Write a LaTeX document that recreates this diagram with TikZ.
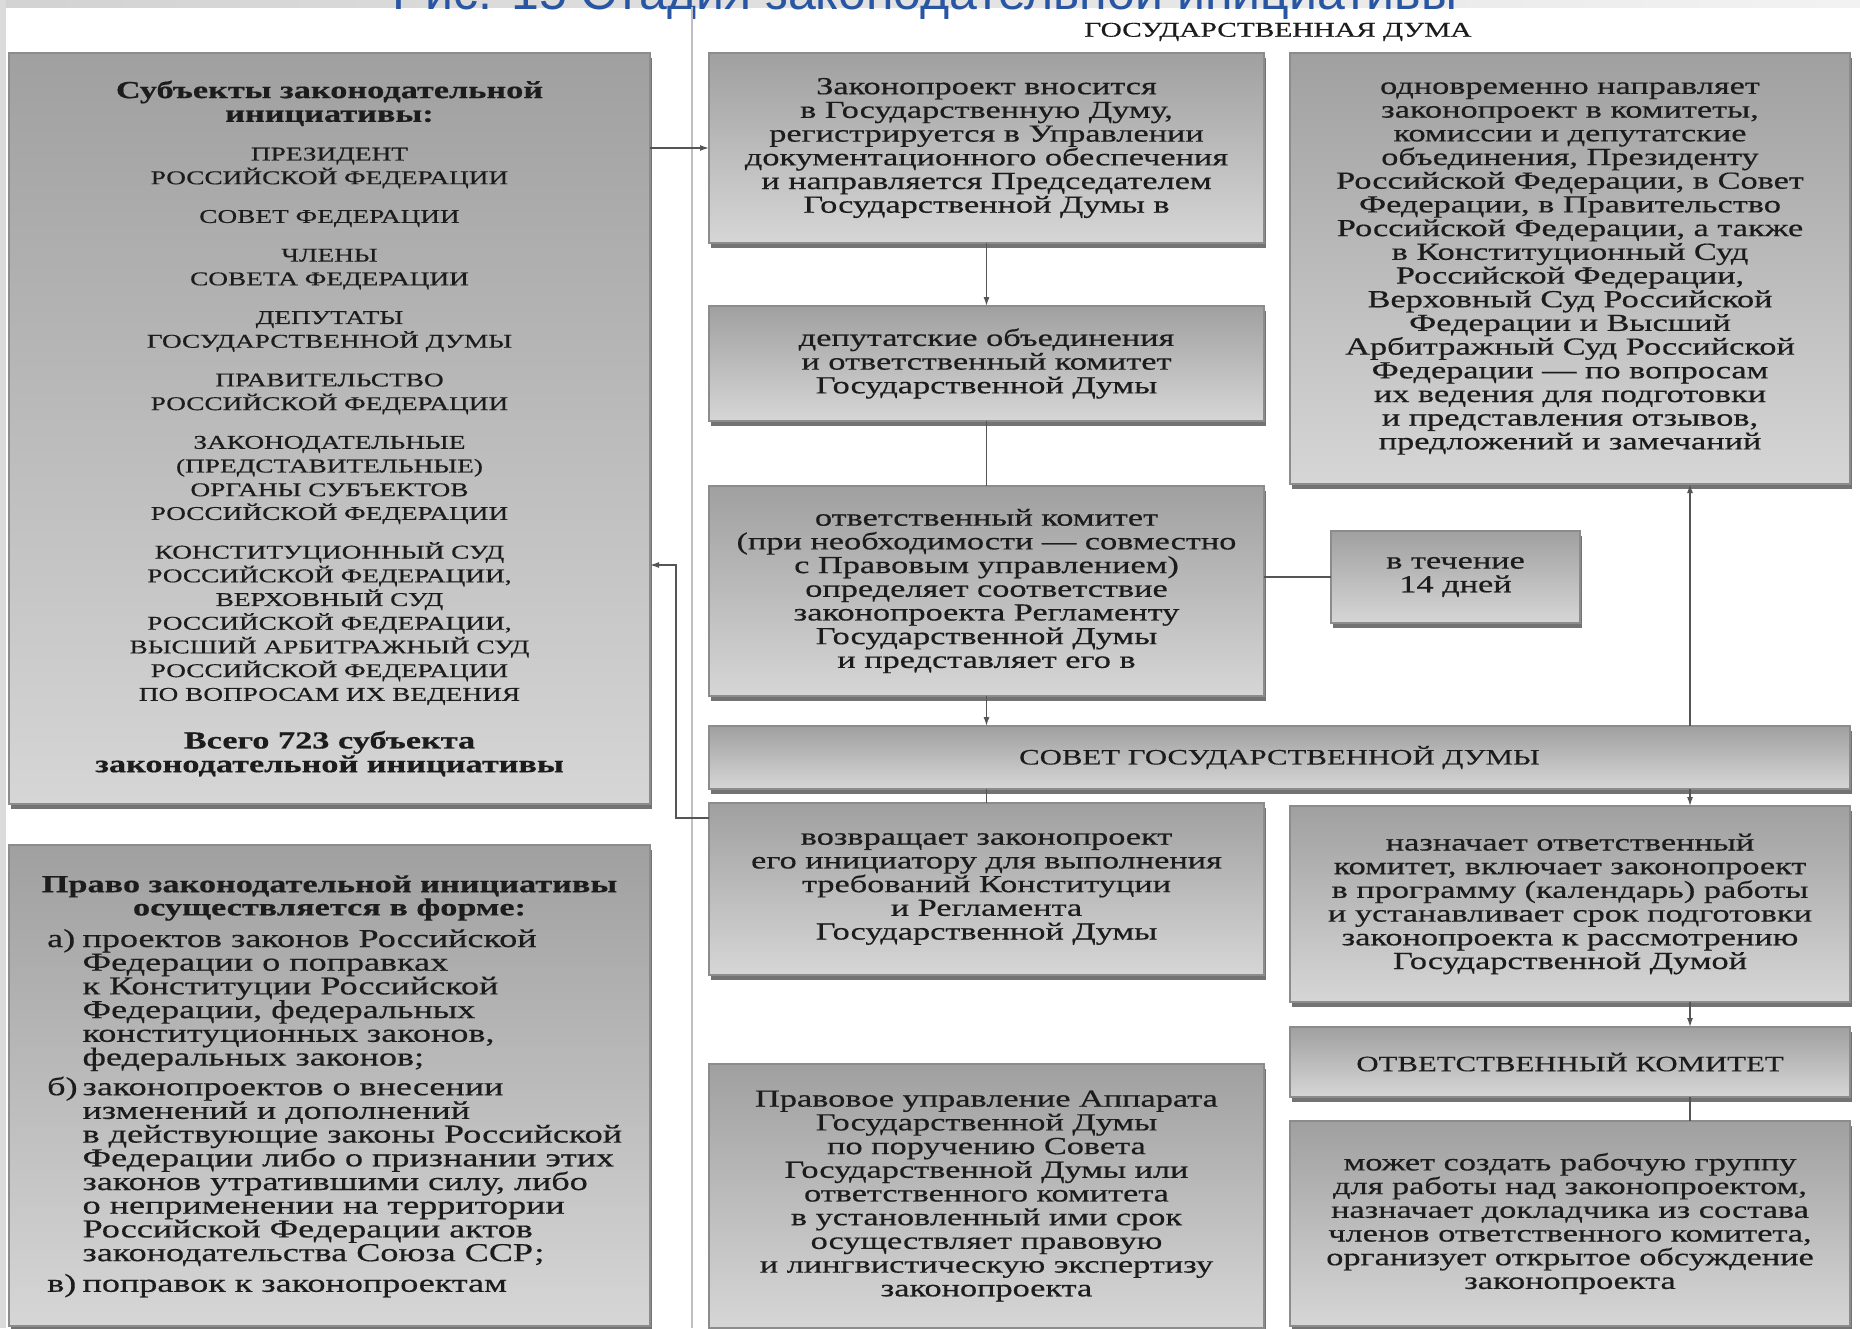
\documentclass[tikz,border=0pt]{standalone}
\usepackage{fontspec}
\setmainfont{Liberation Serif}[FakeStretch=1.4, FakeBold=0.5]
\newfontfamily\titlefont{Liberation Sans}
\usetikzlibrary{arrows.meta,shadows,calc}
\definecolor{boxtop}{RGB}{160,160,160}
\definecolor{boxbot}{RGB}{214,214,214}
\definecolor{boxline}{RGB}{140,140,140}
\definecolor{shadecol}{RGB}{115,115,115}
\definecolor{txt}{RGB}{28,28,28}
\definecolor{conncol}{RGB}{85,85,85}
\definecolor{titleblue}{RGB}{40,86,162}
\newcommand\bodyf{\fontsize{24.5}{23.7}\selectfont}
\newcommand\capsf{\fontsize{19.5}{23.7}\selectfont}
\newcommand\bigcapsf{\fontsize{22}{23.7}\selectfont}
\newcommand\headf{\fontsize{24.5}{24}\selectfont\bfseries}
\newcommand\smline[1]{\smash{#1}}
\tikzset{
  box/.style={draw=boxline, line width=1.4pt, top color=boxtop, bottom color=boxbot,
    inner sep=0pt, outer sep=0pt, align=center, text=txt, font=\bodyf,
    drop shadow={shadow xshift=1.5pt, shadow yshift=-5pt, fill=shadecol, opacity=1}},
  conn/.style={draw=conncol, line width=1.3pt},
  arr/.style={conn, -{Latex[length=9pt,width=6pt]}},
  plain/.style={text=txt, inner sep=0pt, align=center},
}
\begin{document}
\begin{tikzpicture}[x=1pt,y=-1pt]
\useasboundingbox (0,0) rectangle (1860,1328);
\clip (0,0) rectangle (1860,1328);
% background
\fill[white] (0,0) rectangle (1860,1328);
\shade[left color=gray!35, right color=gray!10] (0,0) rectangle (1860,7);
\fill[gray!28] (0,0) rectangle (6,1328);
\node[anchor=base, text=titleblue, inner sep=0pt] (title) at (925,9)
  {\titlefont\fontsize{50}{60}\selectfont Рис. 15 Стадия законодательной инициативы};
\draw[gray!50, line width=1.3pt] (692,7) -- (692,1328);
\node[plain, font=\fontsize{21}{24}\selectfont] (hdr) at (1278,32) {ГОСУДАРСТВЕННАЯ ДУМА};

% left column
\node[box, minimum width=641pt, minimum height=751pt] (B1) at (329.5,428.5) {%
\headf Субъекты законодательной\\
\headf инициативы:\\[15pt]
\capsf ПРЕЗИДЕНТ\\
\capsf РОССИЙСКОЙ ФЕДЕРАЦИИ\\[15pt]
\capsf СОВЕТ ФЕДЕРАЦИИ\\[15pt]
\capsf ЧЛЕНЫ\\
\capsf СОВЕТА ФЕДЕРАЦИИ\\[15pt]
\capsf ДЕПУТАТЫ\\
\capsf ГОСУДАРСТВЕННОЙ ДУМЫ\\[15pt]
\capsf ПРАВИТЕЛЬСТВО\\
\capsf РОССИЙСКОЙ ФЕДЕРАЦИИ\\[15pt]
\capsf ЗАКОНОДАТЕЛЬНЫЕ\\
\capsf (ПРЕДСТАВИТЕЛЬНЫЕ)\\
\capsf ОРГАНЫ СУБЪЕКТОВ\\
\capsf РОССИЙСКОЙ ФЕДЕРАЦИИ\\[15pt]
\capsf КОНСТИТУЦИОННЫЙ СУД\\
\capsf РОССИЙСКОЙ ФЕДЕРАЦИИ,\\
\capsf ВЕРХОВНЫЙ СУД\\
\capsf РОССИЙСКОЙ ФЕДЕРАЦИИ,\\
\capsf ВЫСШИЙ АРБИТРАЖНЫЙ СУД\\
\capsf РОССИЙСКОЙ ФЕДЕРАЦИИ\\
\capsf ПО ВОПРОСАМ ИХ ВЕДЕНИЯ\\[24pt]
\headf Всего 723 субъекта\\
\headf законодательной инициативы};

\node[box, minimum width=641pt, minimum height=481pt] (B2) at (329.5,1085.5) {};
\node[plain] (B2h) at (329.5,898) {\headf Право законодательной инициативы\\ \headf осуществляется в форме:};
\node[plain, anchor=base west, align=left] (B2l) at (47,947) {\fontsize{25.8}{23.7}\selectfont
\begin{tabular}[t]{@{}l@{\hspace{5pt}}l@{}}
\smline{а)} & \smline{проектов законов Российской}\\
   & \smline{Федерации о поправках}\\
   & \smline{к Конституции Российской}\\
   & \smline{Федерации, федеральных}\\
   & \smline{конституционных законов,}\\
   & \smline{федеральных законов;}\\[6pt]
\smline{б)} & \smline{законопроектов о внесении}\\
   & \smline{изменений и дополнений}\\
   & \smline{в действующие законы Российской}\\
   & \smline{Федерации либо о признании этих}\\
   & \smline{законов утратившими силу, либо}\\
   & \smline{о неприменении на территории}\\
   & \smline{Российской Федерации актов}\\
   & \smline{законодательства Союза ССР;}\\[7pt]
\smline{в)} & \smline{поправок к законопроектам}
\end{tabular}};

% middle column
\node[box, minimum width=555pt, minimum height=190pt] (M1) at (986.5,148) {%
Законопроект вносится\\ в Государственную Думу,\\ регистрируется в Управлении\\
документационного обеспечения\\ и направляется Председателем\\ Государственной Думы в};
\node[box, minimum width=555pt, minimum height=115pt] (M2) at (986.5,363.5) {%
депутатские объединения\\ и ответственный комитет\\ Государственной Думы};
\node[box, minimum width=555pt, minimum height=210pt] (M3) at (986.5,591) {%
ответственный комитет\\ (при необходимости — совместно\\ с Правовым управлением)\\
определяет соответствие\\ законопроекта Регламенту\\ Государственной Думы\\ и представляет его в};
\node[box, minimum width=249pt, minimum height=92pt] (T) at (1455.5,577) {в течение\\ 14 дней};
\node[box, minimum width=1141pt, minimum height=63pt, font=\bigcapsf] (S) at (1279.5,757.5) {СОВЕТ ГОСУДАРСТВЕННОЙ ДУМЫ};
\node[box, minimum width=555pt, minimum height=172pt] (M4) at (986.5,889) {%
возвращает законопроект\\ его инициатору для выполнения\\ требований Конституции\\
и Регламента\\ Государственной Думы};
\node[box, minimum width=555pt, minimum height=264pt] (M5) at (986.5,1196) {%
Правовое управление Аппарата\\ Государственной Думы\\ по поручению Совета\\
Государственной Думы или\\ ответственного комитета\\ в установленный ими срок\\
осуществляет правовую\\ и лингвистическую экспертизу\\ законопроекта};

% right column
\node[box, minimum width=560pt, minimum height=431pt] (R1) at (1570,268.5) {%
одновременно направляет\\ законопроект в комитеты,\\ комиссии и депутатские\\
объединения, Президенту\\ Российской Федерации, в Совет\\ Федерации, в Правительство\\
Российской Федерации, а также\\ в Конституционный Суд\\ Российской Федерации,\\
Верховный Суд Российской\\ Федерации и Высший\\ Арбитражный Суд Российской\\
Федерации — по вопросам\\ их ведения для подготовки\\ и представления отзывов,\\
предложений и замечаний};
\node[box, minimum width=560pt, minimum height=196pt] (R2) at (1570,904) {%
назначает ответственный\\ комитет, включает законопроект\\ в программу (календарь) работы\\
и устанавливает срок подготовки\\ законопроекта к рассмотрению\\ Государственной Думой};
\node[box, minimum width=560pt, minimum height=70pt, font=\bigcapsf] (R3) at (1570,1062) {ОТВЕТСТВЕННЫЙ КОМИТЕТ};
\node[box, minimum width=560pt, minimum height=205pt] (R4) at (1570,1223.5) {%
может создать рабочую группу\\ для работы над законопроектом,\\ назначает докладчика из состава\\
членов ответственного комитета,\\ организует открытое обсуждение\\ законопроекта};

% connectors
\coordinate (rx) at (1690,0);
\coordinate (ret) at (676,565);
\draw[arr] (M1.west -| B1.east) -- (M1.west);
\draw[arr] (M1.south) -- (M2.north);
\draw[conn] (M2.south) -- (M3.north);
\draw[arr] (M3.south) -- (M3.south |- S.north);
\draw[conn] (T.west) -- (T.west -| M3.east);
\draw[arr] (S.north -| rx) -- (R1.south -| rx);
\draw[arr] (S.south -| rx) -- (R2.north -| rx);
\draw[conn] (S.south -| M4.north) -- (M4.north);
\draw[arr] ($(M4.north west)+(0,15)$) -| (ret) -- (ret -| B1.east);
\draw[arr] (R2.south -| rx) -- (R3.north -| rx);
\draw[conn] (R3.south -| rx) -- (R4.north -| rx);
\end{tikzpicture}
\end{document}
